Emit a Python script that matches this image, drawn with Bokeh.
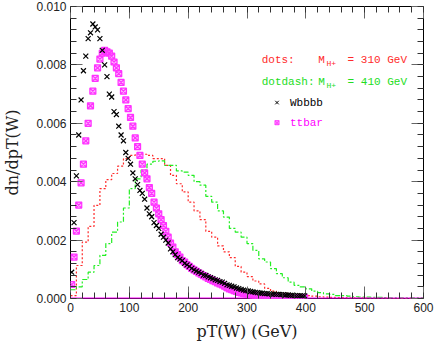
from bokeh.plotting import figure
from bokeh.models import LinearAxis, Range1d, Label, FixedTicker, CustomJSTickFormatter
from bokeh.embed import file_html
from bokeh.resources import INLINE

# ---------------- data ----------------
# points every 4 GeV (bin centres)
pt_pts = [2 + 4 * i for i in range(100)]
wbbbb = [0.0009, 0.0026, 0.0042, 0.0056, 0.0068, 0.0078, 0.0083, 0.0089, 0.0091, 0.0094,
         0.0093, 0.0092, 0.0089, 0.0085, 0.0080, 0.0076, 0.0070, 0.0069, 0.0064, 0.0063,
         0.0059, 0.0056, 0.0054, 0.0050, 0.0048, 0.0046, 0.0043, 0.0041, 0.0039, 0.0037,
         0.0036, 0.0034, 0.0031, 0.0029, 0.0028, 0.0026, 0.0025, 0.0024, 0.0022, 0.0021,
         0.0020, 0.0019, 0.0017, 0.0016, 0.0015, 0.0014, 0.00135, 0.0013, 0.0012, 0.00115,
         0.0011, 0.00103, 0.00098, 0.00094, 0.0009, 0.00086, 0.0008, 0.00079, 0.00074, 0.00071,
         0.00068, 0.00064, 0.00062, 0.00058, 0.00056, 0.00052, 0.00047, 0.00045, 0.00042, 0.0004,
         0.00036, 0.00034, 0.00031, 0.00029, 0.00027, 0.00026, 0.00024, 0.00023, 0.00021, 0.0002,
         0.00019, 0.00018, 0.00017, 0.00017, 0.00016, 0.00015, 0.00015, 0.00014, 0.00014, 0.00013,
         0.00013, 0.00012, 0.00012, 0.00011, 0.00011, 0.0001, 0.0001, 0.0001, 0.00009, 0.00009]
ttbar = [0.00048, 0.00142, 0.00231, 0.0032, 0.00396, 0.0046, 0.0054, 0.0060, 0.0066, 0.0071,
         0.00754, 0.0079, 0.0082, 0.0084, 0.0085, 0.00845, 0.0084, 0.0083, 0.0081, 0.0079,
         0.0077, 0.0074, 0.0071, 0.0068, 0.0065, 0.0062, 0.0059, 0.0055, 0.0052, 0.0049,
         0.0046, 0.0043, 0.0041, 0.0038, 0.0036, 0.0033, 0.0031, 0.0029, 0.0027, 0.0025,
         0.0023, 0.0021, 0.0019, 0.00176, 0.0016, 0.0015, 0.00142, 0.0013, 0.00125, 0.00116,
         0.0011, 0.00103, 0.00098, 0.00093, 0.00088, 0.00083, 0.00078, 0.00074, 0.00069, 0.00065,
         0.00061, 0.00058, 0.00053, 0.0005, 0.00047, 0.00042, 0.00037, 0.00033, 0.0003, 0.00027,
         0.00024, 0.00021, 0.00019, 0.00017, 0.00016, 0.00014, 0.00012, 0.00011, 0.0001, 0.00009,
         0.00008, 0.00007, 0.00007, 0.00006, 0.00006, 0.00005, 0.00005, 0.00005, 0.00004, 0.00004,
         0.00004, 0.00003, 0.00003, 0.00003, 0.00003, 0.00003, 0.00003, 0.00003, 0.00003, 0.00003]

# histograms, 10 GeV bins (left edges)
hist_edges = [10 * i for i in range(60)]
h310 = [0.0001, 0.00113, 0.00193, 0.00247, 0.00319, 0.00376, 0.00407, 0.00428, 0.00453, 0.00479,
        0.0049, 0.00494, 0.00494, 0.0049, 0.00479, 0.00479, 0.00456, 0.00422, 0.00393, 0.00365,
        0.0033, 0.0030, 0.0027, 0.0023, 0.0021, 0.0018, 0.0016, 0.0014, 0.0011, 0.0009,
        0.00075, 0.0006, 0.0005, 0.00035, 0.00025, 0.0002, 0.00018, 0.00015, 0.00014, 0.00012,
        0.0001, 0.00008, 0.00006, 0.00005, 0.00004, 0.00003, 0.00003, 0.00002, 0.00002, 0.00002,
        0.00001, 0.00001, 0.00001, 0.00001, 0.0, 0.0, 0.0, 0.0, 0.0, 0.0]
h410 = [0.0003, 0.0004, 0.00065, 0.0009, 0.00113, 0.00148, 0.00188, 0.00227, 0.00262, 0.0031,
        0.00376, 0.0041, 0.0044, 0.0046, 0.0047, 0.00471, 0.00456, 0.00456, 0.00437, 0.00433,
        0.00422, 0.0040, 0.00388, 0.0035, 0.0033, 0.0030, 0.00279, 0.0024, 0.00227, 0.0021,
        0.00188, 0.00165, 0.00136, 0.00125, 0.00102, 0.00085, 0.00071, 0.00056, 0.00045, 0.0004,
        0.00033, 0.00025, 0.0002, 0.00016, 0.00014, 0.0001, 0.0001, 0.00008, 0.00006, 0.00005,
        0.00005, 0.00004, 0.00004, 0.00003, 0.00002, 0.00002, 0.00002, 0.00002, 0.00002, 0.00002]

x_ticks = [0, 100, 200, 300, 400, 500, 600]
x_minor = list(range(0, 601, 20))
y_ticks = [0.0, 0.002, 0.004, 0.006, 0.008, 0.010]
y_minor = [round(i * 0.0004, 4) for i in range(26)]

# ---------------- figure ----------------
p = figure(width=436, height=344, output_backend="svg", toolbar_location=None,
           x_range=Range1d(0, 600), y_range=Range1d(0, 0.010),
           min_border_left=67, min_border_right=13, min_border_top=6, min_border_bottom=46)
p.background_fill_color = "white"
p.border_fill_color = "white"
p.xgrid.visible = False
p.ygrid.visible = False
p.outline_line_color = "black"
p.outline_line_width = 1

def style_axis(ax, show_labels):
    ax.axis_line_color = None
    ax.major_tick_in = 12
    ax.major_tick_out = 0
    ax.minor_tick_in = 6
    ax.minor_tick_out = 0
    ax.major_tick_line_color = "#666666"
    ax.minor_tick_line_color = "#333333"
    ax.major_label_text_font = "Liberation Sans"
    ax.major_label_text_color = "#222222"
    ax.major_label_text_font_size = "12px"
    if show_labels:
        ax.major_label_standoff = 4
    else:
        ax.major_label_standoff = 0
        ax.formatter = CustomJSTickFormatter(code="return '';")

p.xaxis.ticker = FixedTicker(ticks=x_ticks, minor_ticks=x_minor)
p.yaxis.ticker = FixedTicker(ticks=y_ticks, minor_ticks=y_minor)
style_axis(p.xaxis[0], True)
style_axis(p.yaxis[0], True)
p.yaxis.formatter = CustomJSTickFormatter(code="return tick.toFixed(3);")
p.xaxis.axis_label = "pT(W) (GeV)"
p.yaxis.axis_label = "dn/dpT(W)"
for ax in (p.xaxis[0], p.yaxis[0]):
    ax.axis_label_text_font = "DejaVu Serif"
    ax.axis_label_text_font_style = "normal"
    ax.axis_label_text_color = "#222222"
p.xaxis.axis_label_text_font_size = "16px"
p.yaxis.axis_label_text_font_size = "16px"
p.xaxis.axis_label_standoff = 7
p.yaxis.axis_label_standoff = 11

top = LinearAxis(ticker=FixedTicker(ticks=x_ticks, minor_ticks=x_minor))
right = LinearAxis(ticker=FixedTicker(ticks=y_ticks, minor_ticks=y_minor))
style_axis(top, False)
style_axis(right, False)
p.add_layout(top, "above")
p.add_layout(right, "right")

# ---------------- histograms ----------------
xs310 = hist_edges + [hist_edges[-1] + 10]
ys310 = h310 + [h310[-1]]
xs410 = hist_edges + [hist_edges[-1] + 10]
ys410 = h410 + [h410[-1]]
p.step(xs310, ys310, mode="after", line_color="#ff2a2a", line_dash="2 2", line_width=1.2)
p.step(xs410, ys410, mode="after", line_color="#22ee22", line_dash="5 2 2 2", line_width=1.2)

# baseline of the ttbar sample
p.line([0, 600], [0, 0], line_color="#ff00ff", line_width=2)

# ---------------- points ----------------
p.scatter(pt_pts, ttbar, marker="square_x", size=6, line_color="#ff33ff", fill_color="#ff66ff",
          fill_alpha=0.5, line_width=1.2)
p.scatter(pt_pts, wbbbb, marker="x", size=7, line_color="black", line_width=1.2)

# ---------------- legend texts ----------------
mono = "Liberation Mono"
def lab(x, y, text, color, size="11px"):
    p.add_layout(Label(x=x, y=y, text=text, text_color=color, text_font=mono,
                       text_font_size=size, text_baseline="middle", text_align="left"))

lab(325, 0.00816, "dots:", "#ff2a2a")
lab(421, 0.00816, "M", "#ff2a2a")
lab(435, 0.00805, "H+", "#ff2a2a", "8px")
lab(471, 0.00816, "= 310 GeV", "#ff2a2a")
lab(325, 0.00740, "dotdash:", "#22dd22")
lab(421, 0.00740, "M", "#22dd22")
lab(435, 0.00729, "H+", "#22dd22", "8px")
lab(471, 0.00740, "= 410 GeV", "#22dd22")
p.scatter([351], [0.00671], marker="x", size=5, line_color="black", line_width=1)
lab(373, 0.00671, "Wbbbb", "black")
p.scatter([351], [0.00602], marker="square_x", size=4, line_color="#ff33ff",
          fill_color="#ff66ff", fill_alpha=0.5, line_width=1)
lab(373, 0.00602, "ttbar", "#ff00ff")

open("out.html", "w").write(file_html(p, INLINE))
